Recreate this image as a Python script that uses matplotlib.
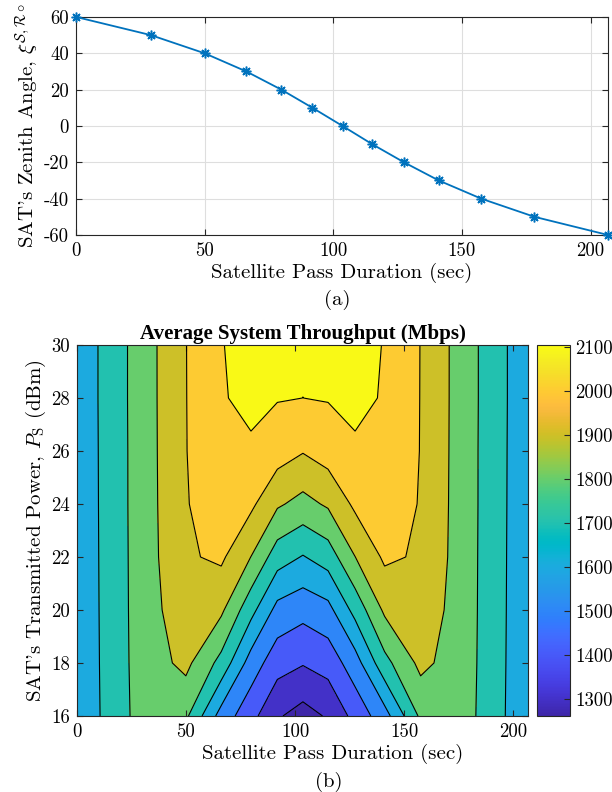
import numpy as np
import matplotlib
matplotlib.use("Agg")
import matplotlib.pyplot as plt
from matplotlib.colors import LinearSegmentedColormap, Normalize
from matplotlib.cm import ScalarMappable

plt.rcParams["font.family"] = "serif"
plt.rcParams["font.serif"] = ["cmr10"]
plt.rcParams["mathtext.fontset"] = "cm"
plt.rcParams["axes.unicode_minus"] = False
plt.rcParams["axes.formatter.use_mathtext"] = False

# satellite pass: time stamps (s) and zenith angle (deg)
pass_time = [0, 29.1, 50.0, 66.2, 79.8, 91.9, 103.6, 115.1, 127.5, 141.0, 157.5, 178.2, 206.8]
zenith_angle = [60, 50, 40, 30, 20, 10, 0, -10, -20, -30, -40, -50, -60]

# transmit power grid (dBm)
tx_power = [16, 18, 20, 22, 24, 26, 28, 30]

# average system throughput (Mbps), one row per transmit power
throughput = [
    [1622, 1834, 1819, 1559, 1433, 1311, 1261, 1311, 1433, 1559, 1819, 1834, 1622],
    [1623, 1838, 1926, 1768, 1555, 1440, 1407, 1440, 1555, 1768, 1926, 1838, 1623],
    [1624, 1840, 1965, 1918, 1733, 1568, 1532, 1568, 1733, 1918, 1965, 1840, 1624],
    [1625, 1841, 1988, 2017, 1899, 1746, 1694, 1746, 1899, 2017, 1988, 1841, 1625],
    [1626, 1842, 1993.5, 2060, 2020, 1914, 1868, 1914, 2020, 2060, 1993.5, 1842, 1626],
    [1627, 1842, 1997, 2085, 2097, 2045, 2006, 2045, 2097, 2085, 1997, 1842, 1627],
    [1628, 1843, 1997.5, 2098.4, 2105, 2105, 2099.9, 2105, 2105, 2098.4, 1997.5, 1843, 1628],
    [1628, 1843, 1998, 2099.4, 2105, 2105.5, 2105, 2105.5, 2105, 2099.4, 1998, 1843, 1628],
]
contour_levels = [1300, 1400, 1500, 1600, 1700, 1800, 1900, 2000, 2100]
cbar_ticks = [1300, 1400, 1500, 1600, 1700, 1800, 1900, 2000, 2100]

# parula (64 samples)
parula_rgb = [
    [0.2422, 0.1504, 0.6603], [0.2504, 0.1650, 0.7076], [0.2578, 0.1818, 0.7511], [0.2647, 0.1978, 0.7952],
    [0.2706, 0.2147, 0.8364], [0.2751, 0.2342, 0.8710], [0.2783, 0.2559, 0.8991], [0.2803, 0.2782, 0.9221],
    [0.2813, 0.3006, 0.9414], [0.2810, 0.3228, 0.9579], [0.2795, 0.3447, 0.9717], [0.2760, 0.3667, 0.9829],
    [0.2699, 0.3892, 0.9906], [0.2602, 0.4123, 0.9952], [0.2440, 0.4358, 0.9988], [0.2206, 0.4603, 0.9973],
    [0.1963, 0.4847, 0.9892], [0.1834, 0.5074, 0.9798], [0.1786, 0.5289, 0.9682], [0.1764, 0.5499, 0.9520],
    [0.1687, 0.5703, 0.9359], [0.1540, 0.5902, 0.9218], [0.1460, 0.6091, 0.9079], [0.1380, 0.6276, 0.8973],
    [0.1248, 0.6459, 0.8883], [0.1113, 0.6635, 0.8763], [0.0952, 0.6798, 0.8598], [0.0689, 0.6948, 0.8394],
    [0.0297, 0.7082, 0.8163], [0.0036, 0.7203, 0.7917], [0.0067, 0.7312, 0.7660], [0.0433, 0.7411, 0.7394],
    [0.0964, 0.7500, 0.7120], [0.1408, 0.7584, 0.6842], [0.1717, 0.7670, 0.6554], [0.1938, 0.7758, 0.6251],
    [0.2161, 0.7843, 0.5923], [0.2470, 0.7918, 0.5567], [0.2906, 0.7973, 0.5188], [0.3406, 0.8008, 0.4789],
    [0.3909, 0.8029, 0.4354], [0.4456, 0.8024, 0.3909], [0.5044, 0.7993, 0.3480], [0.5616, 0.7942, 0.3045],
    [0.6174, 0.7876, 0.2612], [0.6720, 0.7793, 0.2227], [0.7242, 0.7698, 0.1910], [0.7738, 0.7598, 0.1646],
    [0.8203, 0.7498, 0.1535], [0.8634, 0.7406, 0.1596], [0.9035, 0.7330, 0.1774], [0.9393, 0.7288, 0.2100],
    [0.9728, 0.7298, 0.2394], [0.9956, 0.7434, 0.2371], [0.9970, 0.7659, 0.2199], [0.9952, 0.7893, 0.2028],
    [0.9892, 0.8136, 0.1885], [0.9786, 0.8386, 0.1766], [0.9676, 0.8639, 0.1643], [0.9610, 0.8890, 0.1537],
    [0.9597, 0.9135, 0.1423], [0.9628, 0.9373, 0.1265], [0.9691, 0.9606, 0.1064], [0.9769, 0.9839, 0.0805],
]
parula = LinearSegmentedColormap.from_list("parula", parula_rgb, N=256)

axis_col = "#262626"
line_col = "#0072BD"

fig = plt.figure(figsize=(6.12, 7.92), dpi=100)

# ---- (a) zenith angle over the pass ----
ax1 = fig.add_axes([0.1242, 0.7033, 0.8693, 0.2753])
ax1.plot(pass_time, zenith_angle, color=line_col, lw=1.3,
         marker=(8, 2, 0), ms=7, mew=1.1, clip_on=False, zorder=3)
ax1.set_xlim(0, pass_time[-1])
ax1.set_ylim(-60, 60)
ax1.set_xticks([0, 50, 100, 150, 200])
ax1.set_yticks([-60, -40, -20, 0, 20, 40, 60])
ax1.grid(True, color="#dedede", lw=0.8)
ax1.set_axisbelow(True)
ax1.set_xlabel("Satellite Pass Duration (sec)", fontsize=15, labelpad=2)
ax1.set_ylabel(r"SAT's Zenith Angle, $\xi^{\mathcal{S},\mathcal{R}\circ}$", fontsize=15, labelpad=2)

# ---- (b) throughput contour ----
ax2 = fig.add_axes([0.1253, 0.0960, 0.7379, 0.4684])
z = np.array(throughput)
zmin, zmax = z.min(), z.max()
norm = Normalize(vmin=zmin, vmax=zmax)
bounds = [zmin] + contour_levels + [zmax + 0.01]
fills = [parula(norm(b)) for b in bounds[:-1]]
ax2.contourf(pass_time, tx_power, z, levels=bounds, colors=fills)
ax2.contour(pass_time, tx_power, z, levels=contour_levels, colors="k", linewidths=0.8)
ax2.set_xlim(0, pass_time[-1])
ax2.set_ylim(16, 30)
ax2.set_xticks([0, 50, 100, 150, 200])
ax2.set_yticks([16, 18, 20, 22, 24, 26, 28, 30])
ax2.set_title("Average System Throughput (Mbps)", fontfamily="Liberation Serif",
              fontweight="bold", fontsize=15, pad=4)
ax2.set_xlabel("Satellite Pass Duration (sec)", fontsize=15, labelpad=2)
ax2.xaxis.set_label_coords(0.5675, -0.075)
ax2.set_ylabel(r"SAT's Transmitted Power, $P_{\mathrm{S}}$ (dBm)", fontsize=15, labelpad=2)

cax = fig.add_axes([0.8775, 0.0960, 0.0539, 0.4684])
cb = fig.colorbar(ScalarMappable(norm=norm, cmap=parula), cax=cax, ticks=cbar_ticks)
cb.outline.set_edgecolor(axis_col)
cb.outline.set_linewidth(0.8)
cax.tick_params(direction="in", length=4, labelsize=13.5, color=axis_col)

for ax in (ax1, ax2):
    ax.tick_params(direction="in", length=4, top=True, right=True,
                   labelsize=13.5, color=axis_col, pad=5)
    for s in ax.spines.values():
        s.set_color(axis_col)
        s.set_linewidth(0.8)

fig.text(0.551, 0.621, "(a)", ha="center", va="center", fontsize=15)
fig.text(0.537, 0.0126, "(b)", ha="center", va="center", fontsize=15)

fig.savefig("out.png", dpi=100)
